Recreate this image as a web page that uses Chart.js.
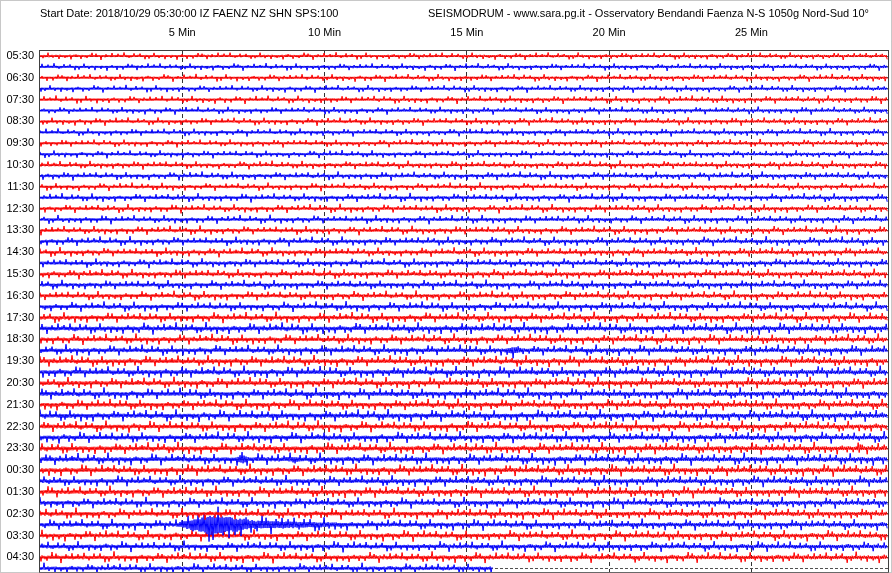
<!DOCTYPE html>
<html>
<head>
<meta charset="utf-8">
<title>Seismodrum</title>
<script src="https://cdn.jsdelivr.net/npm/chart.js@4.4.0/dist/chart.umd.min.js"></script>
<style>
body { margin: 0; background: #fff; }
canvas { display: block; }
</style>
</head>
<body>
<canvas id="drum" width="892" height="573"></canvas>
<script>
const titleLeft = 'Start Date: 2018/10/29 05:30:00 IZ FAENZ NZ SHN SPS:100';
const titleRight = 'SEISMODRUM - www.sara.pg.it - Osservatory Bendandi Faenza N-S 1050g Nord-Sud 10°';

// one label per hour, on the first (red) trace of each hour
const hourLabels = ['05:30', '06:30', '07:30', '08:30', '09:30', '10:30', '11:30', '12:30',
    '13:30', '14:30', '15:30', '16:30', '17:30', '18:30', '19:30', '20:30', '21:30', '22:30',
    '23:30', '00:30', '01:30', '02:30', '03:30', '04:30'];
const minuteTicks = [5, 10, 15, 20, 25];
const traceColors = ['#ff0000', '#0000ff'];
const traceMinutes = 29.8;
const lastTraceEnd = 15.9;
const samplesPerMin = 28.45;

// typical spike height of each 30 min trace, in trace spacings
const traceAmp = [0.36, 0.37, 0.38, 0.37, 0.40, 0.38, 0.40, 0.39, 0.39, 0.39,
    0.42, 0.43, 0.41, 0.44, 0.44, 0.44, 0.45, 0.47, 0.47, 0.47,
    0.49, 0.49, 0.49, 0.51, 0.54, 0.59, 0.54, 0.55, 0.57, 0.59,
    0.57, 0.59, 0.57, 0.61, 0.58, 0.58, 0.60, 0.61, 0.60, 0.56,
    0.58, 0.55, 0.56, 0.56, 0.56, 0.54, 0.55, 0.51];

// [trace, start min, peak min, end min, extra amplitude]
const events = [
    [27, 16.3, 16.65, 17.0, 0.3],
    [36, 28.74, 28.8, 28.86, 0.55],
    [37, 6.9, 7.1, 7.35, 0.5],
    [37, 8.6, 8.9, 9.2, 0.15],
    [43, 4.8, 6.0, 7.4, 1.25],
    [43, 5.6, 7.2, 11.0, 0.45]
];

const texA = [0.28, 0.32, 0.24, 0.7, 0.28, 0.33, 0.24, 0.28, 1.0, 0.32, 0.24, 0.28, 0.33, 0.55,
    0.24, 0.28, 0.32, 0.24, 0.28, 0.85, 0.33, 0.24, 0.28, 0.32, 0.24, 0.6, 0.28, 0.33, 0.24,
    0.28, 0.32, 0.95, 0.24, 0.28, 0.33, 0.24, 0.5, 0.28, 0.32, 0.24, 0.28, 0.75, 0.33, 0.24,
    0.28, 0.32, 0.24, 0.65, 0.28, 0.24, 0.33, 0.28, 0.9];
const texB = [1.0, 0.85, 0.95, 0.8, 1.0, 0.9, 0.8, 0.95, 0.85, 1.0, 0.8, 0.9, 0.9, 0.8, 1.0,
    0.85, 0.95, 0.8, 0.95, 0.9, 1.0, 0.8, 0.85, 0.9, 1.0, 0.8, 0.9, 0.95, 0.8, 0.85, 1.0, 0.9,
    0.8, 0.9, 1.0, 0.85, 0.8, 0.95, 0.9, 0.85, 0.9];

function eventAmp(i, t) {
    let a = 0;
    events.forEach(([tr, s, p, e, peak]) => {
        if (tr !== i || t < s || t > e) return;
        const f = t < p ? (t - s) / (p - s) : (e - t) / (e - p);
        a += peak * f;
    });
    return a;
}

const datasets = traceAmp.map((amp, i) => {
    const end = i === traceAmp.length - 1 ? lastTraceEnd : traceMinutes;
    const pts = [];
    for (let k = 0; k / samplesPerMin <= end; k++) {
        const t = k / samplesPerMin;
        const w = texA[(k + i * 17) % texA.length] * texB[(k + i * 29) % texB.length];
        const v = Math.max(0.09, amp * w + eventAmp(i, t) * Math.sqrt(w));
        pts.push({ x: t, y: i + (k % 2 ? v : -v) });
    }
    return {
        data: pts,
        borderColor: traceColors[i % 2],
        borderWidth: 1,
        pointRadius: 0,
        tension: 0
    };
});

const frame = {
    id: 'frame',
    afterDraw(chart) {
        const { ctx, chartArea: a } = chart;
        ctx.save();
        ctx.strokeStyle = '#404040';
        ctx.lineWidth = 1;
        ctx.strokeRect(a.left - 0.5, a.top - 0.5, a.right - a.left + 1, a.bottom - a.top + 1);
        ctx.strokeStyle = '#909090';
        ctx.setLineDash([1, 1]);
        ctx.strokeRect(0.5, 0.5, chart.width - 1, chart.height - 1);
        ctx.setLineDash([]);
        ctx.fillStyle = '#000';
        ctx.font = '11px "Liberation Sans"';
        ctx.textBaseline = 'middle';
        ctx.fillText(titleLeft, 40, 14);
        ctx.fillText(titleRight, 428, 14);
        ctx.restore();
    }
};

Chart.defaults.font.family = '"Liberation Sans", Arial, sans-serif';
Chart.defaults.font.size = 11;
Chart.defaults.color = '#000';

new Chart(document.getElementById('drum'), {
    type: 'line',
    data: { datasets: datasets },
    options: {
        responsive: false,
        animation: false,
        parsing: false,
        normalized: true,
        events: [],
        layout: { padding: { top: 0, left: 0, right: 4, bottom: 1 } },
        plugins: { legend: { display: false }, tooltip: { enabled: false } },
        scales: {
            x: {
                type: 'linear',
                position: 'top',
                min: 0,
                max: traceMinutes,
                z: 1,
                afterBuildTicks: s => { s.ticks = minuteTicks.map(v => ({ value: v })); },
                afterFit: s => { s.height = 51; s.paddingLeft = 0; s.paddingRight = 0; },
                ticks: { callback: v => v + ' Min', padding: 11, maxRotation: 0 },
                grid: { color: '#333', drawTicks: false },
                border: { display: false, dash: [4, 3] }
            },
            y: {
                type: 'linear',
                reverse: true,
                min: -0.46,
                max: 47.34,
                z: 1,
                afterBuildTicks: s => { s.ticks = traceAmp.map((a, i) => ({ value: i })); },
                afterFit: s => { s.width = 40; s.paddingTop = 0; s.paddingBottom = 0; },
                ticks: {
                    autoSkip: false,
                    padding: 6,
                    callback: v => v % 2 === 0 ? hourLabels[v / 2] : ''
                },
                grid: { color: '#505050', drawTicks: false },
                border: { display: false, dash: [3, 2] }
            }
        }
    },
    plugins: [frame]
});
</script>
</body>
</html>
